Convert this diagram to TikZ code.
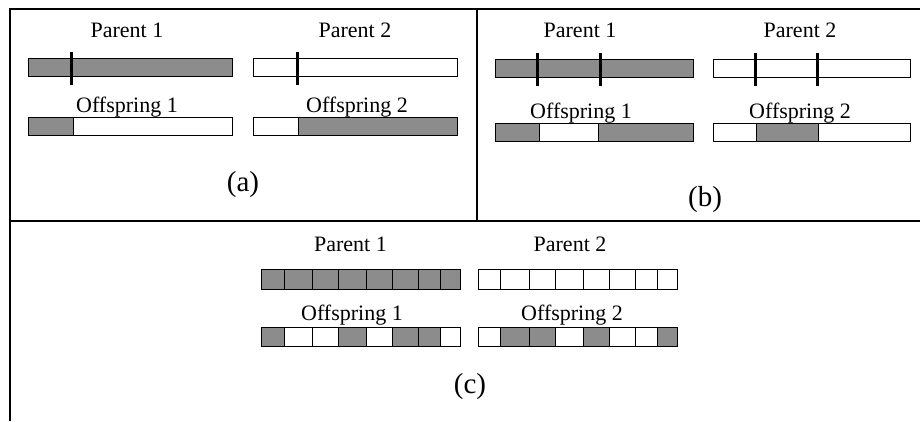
\documentclass[tikz,border=0pt]{standalone}
\usepackage{fontspec}
\setmainfont{Liberation Serif}
\definecolor{gene}{RGB}{140,140,140}
\begin{document}
\begin{tikzpicture}[x=1pt,y=-1pt,
  seg/.style={draw=black,line width=1pt},
  g/.style={seg,fill=gene},
  w/.style={seg,fill=white},
  cutline/.style={line width=3pt},
  frameline/.style={line width=2.2pt},
  lbl/.style={font=\fontsize{22}{25}\selectfont,anchor=base,inner sep=0pt},
  panellbl/.style={font=\fontsize{29}{33}\selectfont,anchor=base,inner sep=0pt}]
\useasboundingbox (0,0) rectangle (920,421);
% frame
\draw[frameline] (9,9) -- (920,9);
\draw[frameline] (10,8) -- (10,421);
\draw[frameline] (10,221) -- (920,221);
\draw[frameline] (477,9) -- (477,221);

% ---------- panel (a)
\node[lbl] (pa1) at (127,37.5) {Parent 1};
\node[lbl] (pa2) at (355,37.5) {Parent 2};
\draw[g] (28,58) rectangle (232,76);
\draw[w] (253,58) rectangle (457,76);
\draw[cutline] (71,52) -- (71,85);
\draw[cutline] (297,52) -- (297,85);
\node[lbl] (oa1) at (127,112) {Offspring 1};
\node[lbl] (oa2) at (357,112) {Offspring 2};
\draw[g] (28,117) rectangle (73,135);
\draw[w] (73,117) rectangle (232,135);
\draw[w] (253,117) rectangle (298,135);
\draw[g] (298,117) rectangle (457,135);
\node[panellbl] (capa) at (243,191) {(a)};

% ---------- panel (b)
\node[lbl] (pb1) at (580,37.5) {Parent 1};
\node[lbl] (pb2) at (800,37.5) {Parent 2};
\draw[g] (495,59) rectangle (693,77);
\draw[w] (713,59) rectangle (910,77);
\draw[cutline] (537.5,53) -- (537.5,86);
\draw[cutline] (600,53) -- (600,86);
\draw[cutline] (755.5,53) -- (755.5,86);
\draw[cutline] (817,53) -- (817,86);
\node[lbl] (ob1) at (581,118) {Offspring 1};
\node[lbl] (ob2) at (800,118) {Offspring 2};
\draw[g] (495,123) rectangle (539,141);
\draw[w] (539,123) rectangle (598,141);
\draw[g] (598,123) rectangle (693,141);
\draw[w] (713,123) rectangle (756,141);
\draw[g] (756,123) rectangle (818,141);
\draw[w] (818,123) rectangle (910,141);
\node[panellbl] (capb) at (705,206) {(b)};

% ---------- panel (c)
\node[lbl] (pc1) at (350.5,251.5) {Parent 1};
\node[lbl] (pc2) at (570,251.5) {Parent 2};
\foreach \a/\b in {261/284.3,284.3/312,312/338.7,338.7/366.7,366.7/392.7,392.7/418.7,418.7/440.7,440.7/460}
  \draw[g] (\a,269.5) rectangle (\b,289);
\foreach \a/\b in {478.3/500.7,500.7/529.3,529.3/555.3,555.3/583.3,583.3/609.3,609.3/635,635/657.3,657.3/677.7}
  \draw[w] (\a,269.5) rectangle (\b,289);
\node[lbl] (oc1) at (352,320) {Offspring 1};
\node[lbl] (oc2) at (572,320) {Offspring 2};
\foreach \a/\b/\f in {261/284.3/gene,284.3/312/white,312/338.7/white,338.7/366.7/gene,366.7/392.7/white,392.7/418.7/gene,418.7/440.7/gene,440.7/460/white}
  \draw[seg,fill=\f] (\a,327.5) rectangle (\b,346.7);
\foreach \a/\b/\f in {478.3/500.7/white,500.7/529.3/gene,529.3/555.3/gene,555.3/583.3/white,583.3/609.3/gene,609.3/635/white,635/657.3/white,657.3/677.7/gene}
  \draw[seg,fill=\f] (\a,327.5) rectangle (\b,346.7);
\node[panellbl] (capc) at (470,393) {(c)};
\end{tikzpicture}
\end{document}
